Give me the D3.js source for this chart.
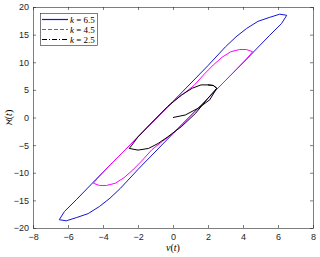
<!DOCTYPE html>
<html>
<head>
<meta charset="utf-8">
<script src="https://cdn.jsdelivr.net/npm/d3@7"></script>
<style>
  body { margin: 0; background: #fff; }
  svg { display: block; }
  .tick text { font-family: "Liberation Sans", Arial, sans-serif; font-size: 9px; fill: #262626; }
</style>
</head>
<body>
<script>
// values, [v, aleph] pairs
var loop65 = [[-6.5,-18.5],[-6.1,-18.7],[-5.5,-18.1],[-4.85,-17.4],[-4.2,-16.1],[-3.6,-14.6],[-3.0,-12.8],
  [-2.0,-9.4],[0,-2.9],[2,3.5],[4,9.9],[5.5,14.8],[6.2,17.0],[6.5,18.5],[6.1,18.7],[5.5,18.1],[4.85,17.4],
  [4.2,16.1],[3.6,14.6],[3.0,12.8],[2.0,9.4],[0,2.9],[-2,-3.5],[-4,-9.9],[-5.5,-14.8],[-6.2,-17.0],[-6.5,-18.5]];
var loop45 = [[-4.55,-11.9],[-4.2,-12.3],[-3.8,-12.3],[-3.3,-11.9],[-2.8,-10.9],[-2.3,-9.5],[-1.8,-7.9],
  [-1.2,-5.8],[-0.6,-4.3],[0,-2.9],[2,3.5],[3.5,8.3],[4.2,10.6],[4.55,11.9],[4.2,12.3],[3.8,12.3],[3.3,11.9],
  [2.8,10.9],[2.3,9.5],[1.8,7.9],[1.2,5.8],[0.6,4.3],[0,2.9],[-2,-3.5],[-3.5,-8.3],[-4.2,-10.6],[-4.55,-11.9]];
var loop25 = [[0,0],[0.7,0.45],[1.45,1.7],[2.1,3.2],[2.5,5.3],[2.3,5.8],[2.0,5.9],[1.6,5.9],[1.1,5.3],
  [0.5,4.1],[-0.3,2.0],[-1.3,-1.2],[-2.0,-3.5],[-2.35,-5.0],[-2.5,-5.6],[-2.0,-5.9],[-1.4,-5.6],[-0.85,-4.7],
  [-0.3,-3.5],[0.5,-1.6],[1.3,0.8],[2.0,3.5],[2.5,5.3],[2.3,5.8],[2.0,5.9]];

var kValues = ["6.5", "4.5", "2.5"];
var xTicks = [-8, -6, -4, -2, 0, 2, 4, 6, 8];
var yTicks = [-20, -15, -10, -5, 0, 5, 10, 15, 20];

var W = 320, H = 257;
var margin = {top: 7, right: 7, bottom: 29, left: 33};

var svg = d3.select("body").append("svg")
  .attr("width", W).attr("height", H);

var x = d3.scaleLinear().domain([-8, 8]).range([margin.left, W - margin.right]);
var y = d3.scaleLinear().domain([-20, 20]).range([H - margin.bottom, margin.top]);

var series = [
  {data: loop65, color: "#1414d8", dash: "none"},
  {data: loop45, color: "#ff00ff", dash: "4,2"},
  {data: loop25, color: "#000000", dash: "5,2,1,2"}
];

var line = d3.line().x(function(d){ return x(d[0]); }).y(function(d){ return y(d[1]); });

svg.append("g").selectAll("path").data(series).enter()
  .append("path")
  .attr("d", function(d){ return line(d.data); })
  .attr("fill", "none")
  .attr("stroke", function(d){ return d.color; })
  .attr("stroke-width", 1)
  .attr("stroke-linejoin", "round");

// axes, ticks pointing inward, box on all sides
var axisColor = "#262626";
var gx = svg.append("g").attr("transform", "translate(0," + y(-20) + ")")
  .call(d3.axisBottom(x).tickValues(xTicks).tickSizeInner(-3).tickSizeOuter(0).tickPadding(6));
var gy = svg.append("g").attr("transform", "translate(" + x(-8) + ",0)")
  .call(d3.axisLeft(y).tickValues(yTicks).tickSizeInner(-3).tickSizeOuter(0).tickPadding(4));
var gx2 = svg.append("g").attr("transform", "translate(0," + y(20) + ")")
  .call(d3.axisTop(x).tickValues(xTicks).tickSizeInner(-3).tickSizeOuter(0).tickFormat(""));
var gy2 = svg.append("g").attr("transform", "translate(" + x(8) + ",0)")
  .call(d3.axisRight(y).tickValues(yTicks).tickSizeInner(-3).tickSizeOuter(0).tickFormat(""));
[gx, gy, gx2, gy2].forEach(function(g) {
  g.selectAll("path, line").attr("stroke", axisColor).attr("stroke-width", 0.6);
});

// axis labels
svg.append("text")
  .attr("x", x(0)).attr("y", 251)
  .attr("text-anchor", "middle")
  .style("font-family", "'Liberation Serif', 'DejaVu Serif', serif")
  .style("font-size", "10px")
  .html("<tspan font-style='italic'>v</tspan>(<tspan font-style='italic'>t</tspan>)");

svg.append("text")
  .attr("transform", "translate(12," + y(0) + ") rotate(-90)")
  .attr("text-anchor", "middle")
  .style("font-family", "'Liberation Serif', 'DejaVu Serif', serif")
  .style("font-size", "10px")
  .html("ℵ(<tspan font-style='italic'>t</tspan>)");

// legend
var lg = svg.append("g");
lg.append("rect")
  .attr("x", 40.5).attr("y", 13.5).attr("width", 57).attr("height", 32)
  .attr("fill", "#fff").attr("stroke", axisColor).attr("stroke-width", 0.6);
series.forEach(function(s, i) {
  var ly = 19.5 + i * 10;
  lg.append("line")
    .attr("x1", 42).attr("x2", 68).attr("y1", ly).attr("y2", ly)
    .style("stroke", s.color)
    .style("stroke-width", 1.2)
    .style("stroke-dasharray", s.dash);
  lg.append("text")
    .attr("x", 70).attr("y", ly + 3)
    .style("font-family", "'Liberation Serif', 'DejaVu Serif', serif")
    .style("font-size", "9px")
    .style("fill", "#000")
    .html("<tspan font-style='italic'>k</tspan> = " + kValues[i]);
});
</script>
</body>
</html>
